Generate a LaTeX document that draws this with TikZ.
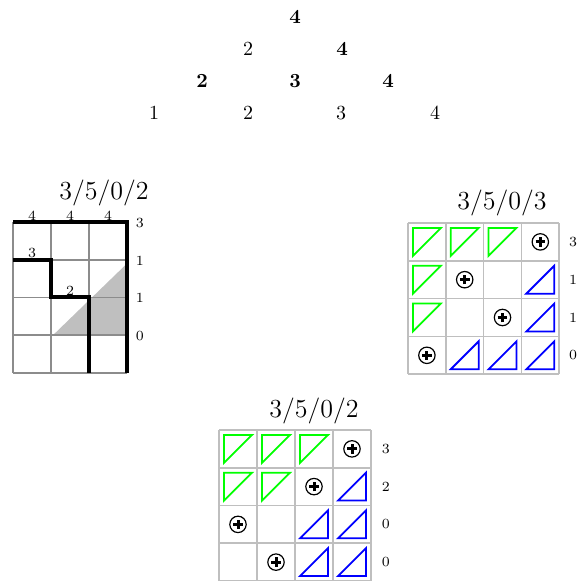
\documentclass[tikz,border=0pt]{standalone}
\usepackage{tikz}
\tikzset{
  trin/.style={font=\fontsize{10}{12}\selectfont, inner sep=0pt},
  trib/.style={font=\fontsize{10}{12}\selectfont\bfseries, inner sep=0pt},
  ttl/.style={font=\fontsize{13}{15}\selectfont, inner sep=0pt},
  lbl/.style={font=\fontsize{7}{8}\selectfont, inner sep=0pt},
  darkgrid/.style={draw=black!45, line width=0.85pt},
  lightgrid/.style={draw=black!25, line width=0.85pt},
  thickpath/.style={line width=2pt, line join=miter},
  gtri/.pic={\draw[green, line width=0.9pt, line join=miter] (0.13,0.13) -- (0.87,0.13) -- (0.13,0.87) -- cycle;},
  btri/.pic={\draw[blue, line width=0.9pt, line join=miter] (0.13,0.87) -- (0.87,0.87) -- (0.87,0.13) -- cycle;},
  cplus/.pic={\draw[line width=0.6pt] (0,0) circle[radius=4.1pt];
              \draw[line width=1.5pt] (-2.4pt,0) -- (2.4pt,0) (0,-2.4pt) -- (0,2.4pt);}
}
\begin{document}
\begin{tikzpicture}[x=0.5pt, y=-0.5pt]
\useasboundingbox (0,0) rectangle (580,581);
% number triangle
\node[trib] (t1) at (295,17) {4};
\node[trin] (t21) at (248,49) {2};
\node[trib] (t22) at (342,49) {4};
\node[trib] (t31) at (202,81) {2};
\node[trib] (t32) at (295,81) {3};
\node[trib] (t33) at (388,81) {4};
\node[trin] (t41) at (154,113) {1};
\node[trin] (t42) at (248,113) {2};
\node[trin] (t43) at (341,113) {3};
\node[trin] (t44) at (435,113) {4};

% left grid
\node[ttl] (lt) at (104,193) {3/5/0/2};
\begin{scope}[shift={(13,222)}, x=19pt, y=-18.875pt]
  \fill[black!25] (1.05,3) -- (3,3) -- (3,1.1) -- cycle;
  \foreach \i in {0,...,3} \draw[darkgrid] (\i,0) -- (\i,4);
  \foreach \j in {0,...,4} \draw[darkgrid] (0,\j) -- (3,\j);
  \draw[thickpath] (0,0) -- (3,0) -- (3,4);
  \draw[thickpath] (0,1) -- (1,1) -- (1,2) -- (2,2) -- (2,4);
  \node[lbl] (la1) at (0.5,-0.17) {4};
  \node[lbl] (la2) at (1.5,-0.17) {4};
  \node[lbl] (la3) at (2.5,-0.17) {4};
  \node[lbl] (lb) at (0.5,0.83) {3};
  \node[lbl] (lc) at (1.5,1.83) {2};
  \node[lbl] (lr1) at (3.34,0.02) {3};
  \node[lbl] (lr2) at (3.34,1.03) {1};
  \node[lbl] (lr3) at (3.34,2.02) {1};
  \node[lbl] (lr4) at (3.34,3.02) {0};
\end{scope}

% right grid
\node[ttl] (rt) at (502,203) {3/5/0/3};
\begin{scope}[shift={(408,223)}, x=18.9pt, y=-18.9pt]
  \foreach \i in {0,...,4} \draw[lightgrid] (\i,0) -- (\i,4) (0,\i) -- (4,\i);
  \pic at (0,0) {gtri}; \pic at (1,0) {gtri}; \pic at (2,0) {gtri}; \pic at (3.5,0.5) {cplus};
  \pic at (0,1) {gtri}; \pic at (1.5,1.5) {cplus}; \pic at (3,1) {btri};
  \pic at (0,2) {gtri}; \pic at (2.5,2.5) {cplus}; \pic at (3,2) {btri};
  \pic at (0.5,3.5) {cplus}; \pic at (1,3) {btri}; \pic at (2,3) {btri}; \pic at (3,3) {btri};
  \node[lbl] (rr1) at (4.37,0.5) {3};
  \node[lbl] (rr2) at (4.37,1.5) {1};
  \node[lbl] (rr3) at (4.37,2.5) {1};
  \node[lbl] (rr4) at (4.37,3.5) {0};
\end{scope}

% bottom grid
\node[ttl] (bt) at (314,411) {3/5/0/2};
\begin{scope}[shift={(219,430)}, x=19pt, y=-18.875pt]
  \foreach \i in {0,...,4} \draw[lightgrid] (\i,0) -- (\i,4) (0,\i) -- (4,\i);
  \pic at (0,0) {gtri}; \pic at (1,0) {gtri}; \pic at (2,0) {gtri}; \pic at (3.5,0.5) {cplus};
  \pic at (0,1) {gtri}; \pic at (1,1) {gtri}; \pic at (2.5,1.5) {cplus}; \pic at (3,1) {btri};
  \pic at (0.5,2.5) {cplus}; \pic at (2,2) {btri}; \pic at (3,2) {btri};
  \pic at (1.5,3.5) {cplus}; \pic at (2,3) {btri}; \pic at (3,3) {btri};
  \node[lbl] (br1) at (4.39,0.5) {3};
  \node[lbl] (br2) at (4.39,1.5) {2};
  \node[lbl] (br3) at (4.39,2.5) {0};
  \node[lbl] (br4) at (4.39,3.5) {0};
\end{scope}
\end{tikzpicture}
\end{document}
